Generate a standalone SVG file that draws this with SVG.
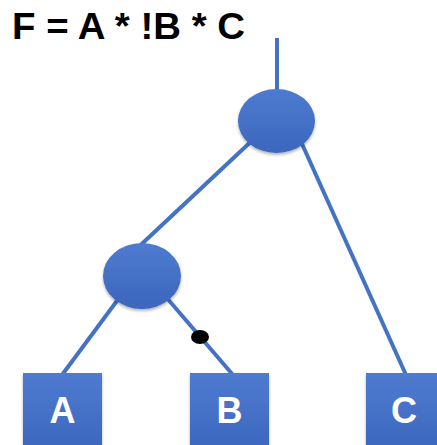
<svg xmlns="http://www.w3.org/2000/svg" width="437" height="445" viewBox="0 0 437 445">
<defs>
<linearGradient id="g" x1="0" y1="0" x2="0" y2="1">
<stop offset="0" stop-color="#4e7bd0"/>
<stop offset="1" stop-color="#3b66bd"/>
</linearGradient>
<filter id="sh" x="-20%" y="-20%" width="140%" height="140%">
<feGaussianBlur in="SourceAlpha" stdDeviation="1.5"/>
<feOffset dy="1.5"/>
<feComponentTransfer><feFuncA type="linear" slope="0.3"/></feComponentTransfer>
<feMerge><feMergeNode/><feMergeNode in="SourceGraphic"/></feMerge>
</filter>
</defs>
<style>
.e{stroke:#4472c4;stroke-width:4;fill:none}
.n{fill:url(#g);filter:url(#sh)}
.t{font-family:"Liberation Sans",Arial,sans-serif;font-weight:bold;fill:#fff;font-size:36px;text-anchor:middle}
</style>
<rect width="437" height="445" fill="#fff"/>
<text x="12" y="39" font-family="Liberation Sans,Arial,sans-serif" font-weight="bold" font-size="36" textLength="233" lengthAdjust="spacingAndGlyphs" fill="#000">F = A * !B * C</text>
<g id="connectors">
<line class="e" x1="277" y1="38" x2="277" y2="110"/>
<line class="e" x1="258" y1="135" x2="130" y2="255"/>
<line class="e" x1="298" y1="135" x2="406" y2="375"/>
<line class="e" x1="125" y1="290" x2="62" y2="375"/>
<line class="e" x1="160" y1="290" x2="233" y2="375"/>
<ellipse cx="200" cy="337" rx="9" ry="7" fill="#000"/>
</g>
<g id="and1"><ellipse class="n" cx="276.5" cy="121" rx="38.5" ry="32"/></g>
<g id="and2"><ellipse class="n" cx="142" cy="276" rx="39" ry="33"/></g>
<g id="A"><rect class="n" x="23" y="373" width="79" height="80"/><text class="t" x="62.5" y="423">A</text></g>
<g id="B"><rect class="n" x="190" y="373" width="79" height="80"/><text class="t" x="229.5" y="423">B</text></g>
<g id="C"><rect class="n" x="366" y="373" width="79" height="80"/><text class="t" x="404" y="423">C</text></g>
</svg>
